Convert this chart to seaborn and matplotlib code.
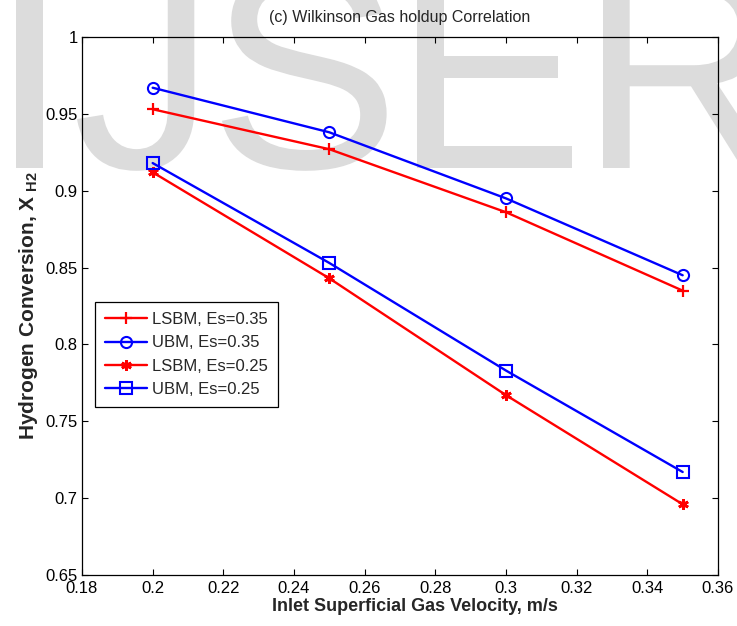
import numpy as np
import pandas as pd
import matplotlib
matplotlib.use("Agg")
import matplotlib.pyplot as plt
import seaborn as sns
from matplotlib.textpath import TextPath
from matplotlib.font_manager import FontProperties
from matplotlib.patches import PathPatch
from matplotlib.transforms import Affine2D, IdentityTransform
from matplotlib.ticker import FuncFormatter, MultipleLocator

# ---- data ----
velocity = [0.20, 0.25, 0.30, 0.35]
lsbm_035 = [0.953, 0.927, 0.886, 0.835]
ubm_035 = [0.967, 0.938, 0.895, 0.845]
lsbm_025 = [0.912, 0.843, 0.767, 0.696]
ubm_025 = [0.918, 0.853, 0.783, 0.717]
series_names = ["LSBM, Es=0.35", "UBM, Es=0.35", "LSBM, Es=0.25", "UBM, Es=0.25"]
title_text = "(c) Wilkinson Gas holdup Correlation"
xlabel_text = "Inlet Superficial Gas Velocity, m/s"
ylabel_text = r"Hydrogen Conversion, $\mathbf{X_{\ H2}}$"

sns.set_style("ticks")
plt.rcParams["font.family"] = ["Liberation Sans", "DejaVu Sans"]
plt.rcParams["mathtext.fontset"] = "custom"
plt.rcParams["mathtext.rm"] = "Liberation Sans"
plt.rcParams["mathtext.bf"] = "Liberation Sans:bold"

W, H = 737, 626
fig = plt.figure(figsize=(W / 100, H / 100), dpi=100)
fig.patch.set_facecolor("white")

# ---- watermark (figure pixel coordinates) ----
wm_font = FontProperties(family="Liberation Sans")
em = 286
baseline = H - 168
letters = [("I", 16), ("J", 77), ("S", 222), ("E", 417), ("R", 603)]
for ch, xmin in letters:
    tp = TextPath((0, 0), ch, size=em, prop=wm_font)
    ext = tp.get_extents()
    tr = Affine2D().translate(xmin - ext.x0, baseline) + IdentityTransform()
    patch = PathPatch(tp, facecolor="#dcdcdc", edgecolor="none",
                      transform=tr, zorder=-5)
    fig.patches.append(patch)
    patch.set_figure(fig)

ax = fig.add_axes([82 / W, 1 - 575 / H, (718 - 82) / W, (575 - 37) / H])
ax.patch.set_alpha(0)

lw = 1.7
sns.lineplot(x=velocity, y=lsbm_035, ax=ax, color="#ff0000", marker="+",
             markersize=9, markeredgewidth=1.6, markeredgecolor="#ff0000",
             linewidth=lw, label=series_names[0])
sns.lineplot(x=velocity, y=ubm_035, ax=ax, color="#0000ff", marker="o",
             markersize=8, markerfacecolor="none", markeredgecolor="#0000ff",
             markeredgewidth=1.5, linewidth=lw, label=series_names[1])
sns.lineplot(x=velocity, y=lsbm_025, ax=ax, color="#ff0000", marker=(6, 2, 0),
             markersize=7.5, markeredgewidth=2.0, markeredgecolor="#ff0000",
             linewidth=lw, label=series_names[2])
sns.lineplot(x=velocity, y=ubm_025, ax=ax, color="#0000ff", marker="s",
             markersize=8, markerfacecolor="none", markeredgecolor="#0000ff",
             markeredgewidth=1.5, linewidth=lw, label=series_names[3])

ax.set_xlim(0.18, 0.36)
ax.set_ylim(0.65, 1.0)
ax.xaxis.set_major_locator(MultipleLocator(0.02))
ax.yaxis.set_major_locator(MultipleLocator(0.05))
fmt = FuncFormatter(lambda v, p: "%g" % round(v, 4))
ax.xaxis.set_major_formatter(fmt)
ax.yaxis.set_major_formatter(fmt)
ax.tick_params(direction="in", top=True, right=True, length=4, width=0.8,
               labelsize=12, colors="black")
ax.tick_params(axis="x", pad=4)
ax.tick_params(axis="y", pad=3)
for sp in ax.spines.values():
    sp.set_visible(True)
    sp.set_linewidth(0.9)
    sp.set_color("black")

ax.set_title(title_text, fontsize=11.5, pad=11)
ax.set_xlabel(xlabel_text, fontsize=13, fontweight="bold")
ax.xaxis.set_label_coords(0.5 + 15 / 636, -23 / 538)
ax.set_ylabel(ylabel_text, fontsize=15, fontweight="bold", labelpad=4)

leg = ax.legend(loc="upper left", bbox_to_anchor=((95 - 82) / 636, (575 - 302) / 538),
                fontsize=12, frameon=True, fancybox=False, framealpha=1,
                edgecolor="black", borderpad=0.6, labelspacing=0.5,
                handlelength=2.5, handletextpad=0.35, borderaxespad=0)
leg.get_frame().set_linewidth(0.9)

fig.savefig("out.png", dpi=100, facecolor="white")
